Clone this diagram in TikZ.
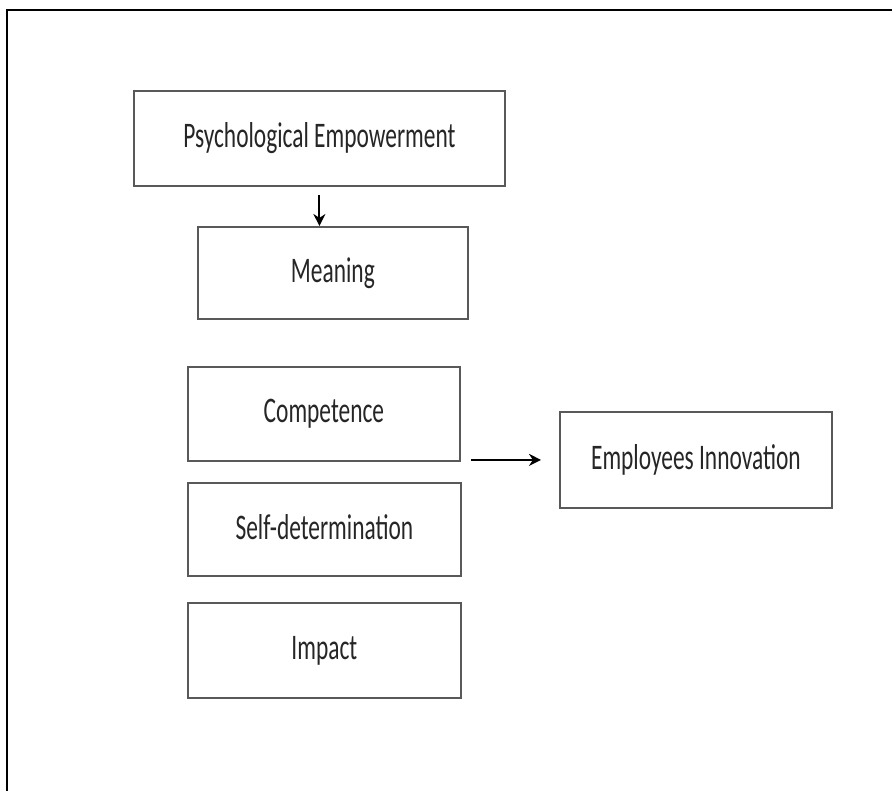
\documentclass[tikz,border=0pt]{standalone}
\usepackage{fontspec}
\newfontfamily\lblfont[FakeStretch=0.65]{Carlito}
\newcommand{\boxtxt}[1]{\raisebox{4pt}{#1}}
\usetikzlibrary{arrows.meta}
\begin{document}
\begin{tikzpicture}[x=1pt,y=-1pt,
  box/.style={draw=black!65, line width=1.8pt, rectangle, anchor=north west,
    inner sep=0pt, text=black!85, font=\lblfont\fontsize{36}{40}\selectfont},
  conn/.style={line width=2pt, -{Stealth[length=12pt,width=12pt]}}]
\useasboundingbox (0,0) rectangle (892,791);
\fill[white] (0,0) rectangle (892,791);
\draw[line width=2pt] (7,791) -- (7,10) -- (892,10);
\node[box, minimum width=371pt, minimum height=95pt] (pe) at (133,90) {\boxtxt{Psychological Empowerment}};
\node[box, minimum width=270pt, minimum height=92pt] (mean) at (197,226) {\boxtxt{Meaning}};
\node[box, minimum width=272pt, minimum height=94pt] (comp) at (187,366) {\boxtxt{Competence}};
\node[box, minimum width=273pt, minimum height=93pt] (self) at (187,482) {\boxtxt{Self-determination}};
\node[box, minimum width=273pt, minimum height=95pt] (imp) at (187,602) {\boxtxt{Impact}};
\node[box, minimum width=272pt, minimum height=96pt] (ei) at (559,411) {\boxtxt{Employees Innovation}};
\coordinate (a1) at ([yshift=-8pt]pe.south);
\coordinate (b1) at (pe.south |- mean.north);
\draw[conn] (a1) -- (b1);
\coordinate (a2) at ([xshift=10pt]comp.east |- ei.west);
\coordinate (b2) at ([xshift=-18pt]ei.west);
\draw[conn] (a2) -- (b2);
\end{tikzpicture}
\end{document}
